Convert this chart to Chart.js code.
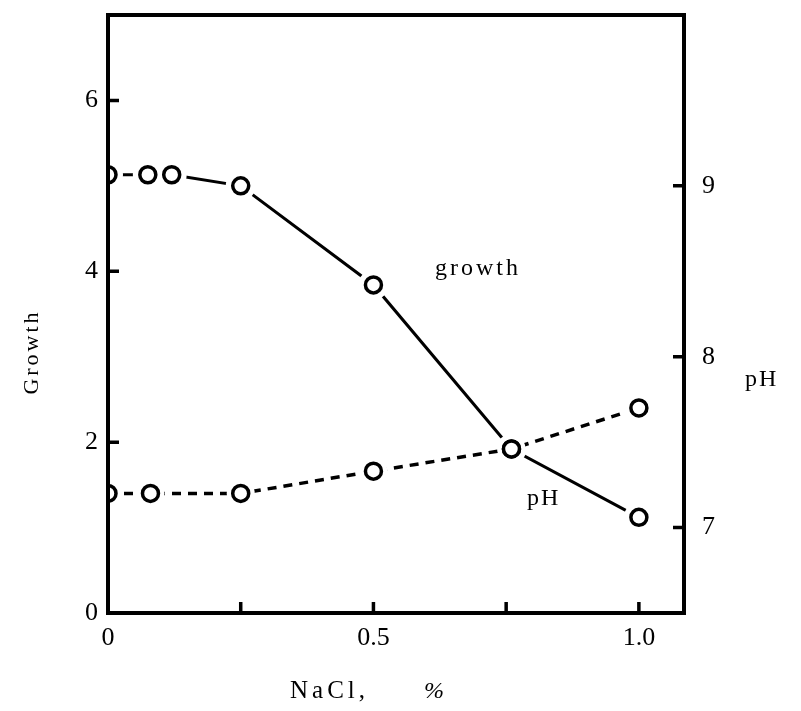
<!DOCTYPE html>
<html>
<head>
<meta charset="utf-8">
<script src="https://cdn.jsdelivr.net/npm/chart.js@4.4.0/dist/chart.umd.min.js"></script>
<style>
  html, body { margin: 0; background: #fff; }
</style>
</head>
<body>
<canvas id="myChart" width="801" height="711"></canvas>
<script>
// values
const growthNaCl = [0, 0.075, 0.12, 0.25, 0.5, 0.76, 1.0];
const growthVals = [5.13, 5.13, 5.13, 5.0, 3.84, 1.92, 1.12];
const phNaCl = [0, 0.08, 0.25, 0.5, 0.76, 1.0];
const phVals = [7.2, 7.2, 7.2, 7.33, 7.46, 7.7];

const xTickLabels = { "0": "0", "0.5": "0.5", "1": "1.0" };
const growthTicks = [0, 2, 4, 6];
const phTicks = [7, 8, 9];

const serif = '"Liberation Serif", "DejaVu Serif", serif';

function pts(xs, ys) {
  return xs.map((x, i) => ({ x: x, y: ys[i] }));
}

// frame, inward ticks and the free texts
const frameAndTicks = {
  id: "frameAndTicks",
  afterDatasetsDraw(chart) {
    const { ctx, chartArea: a, scales } = chart;
    ctx.save();
    ctx.strokeStyle = "#000";
    ctx.lineWidth = 4;
    ctx.strokeRect(a.left, a.top, a.right - a.left, a.bottom - a.top);

    ctx.lineWidth = 3.5;
    ctx.beginPath();
    scales.x.ticks.forEach(t => {
      if (t.value <= 0) return;
      const px = scales.x.getPixelForValue(t.value);
      ctx.moveTo(px, a.bottom);
      ctx.lineTo(px, a.bottom - 11);
    });
    growthTicks.forEach(v => {
      if (v <= 0) return;
      const py = scales.y.getPixelForValue(v);
      ctx.moveTo(a.left, py);
      ctx.lineTo(a.left + 11, py);
    });
    phTicks.forEach(v => {
      const py = scales.y2.getPixelForValue(v);
      ctx.moveTo(a.right, py);
      ctx.lineTo(a.right - 11, py);
    });
    ctx.stroke();

    ctx.fillStyle = "#000";
    ctx.textBaseline = "alphabetic";
    ctx.font = "24px " + serif;
    ctx.letterSpacing = "3px";
    ctx.fillText("growth", 435, 275);
    ctx.letterSpacing = "2px";
    ctx.fillText("pH", 527, 505);
    ctx.fillText("pH", 745, 386);
    ctx.font = "25px " + serif;
    ctx.letterSpacing = "4px";
    ctx.fillText("NaCl,", 290, 698);
    ctx.font = "italic 24px " + serif;
    ctx.fillText("%", 424, 698);

    ctx.font = "22px " + serif;
    ctx.letterSpacing = "3px";
    ctx.translate(38, 352);
    ctx.rotate(-Math.PI / 2);
    ctx.textAlign = "center";
    ctx.fillText("Growth", 0, 0);
    ctx.restore();
  }
};

const ctx = document.getElementById("myChart").getContext("2d");
const myChart = new Chart(ctx, {
  type: "line",
  data: {
    datasets: [
      {
        label: "growth",
        data: pts(growthNaCl, growthVals),
        yAxisID: "y",
        borderColor: "#000",
        borderWidth: 3,
        pointRadius: 15,
        pointBorderWidth: 0,
        pointBackgroundColor: "#fff",
        order: 3
      },
      {
        label: "pH",
        data: pts(phNaCl, phVals),
        yAxisID: "y2",
        borderColor: "#000",
        borderWidth: 3.5,
        borderDash: [9, 7],
        pointRadius: 14,
        pointBorderWidth: 0,
        pointBackgroundColor: "#fff",
        order: 2
      },
      {
        label: "growth points",
        data: pts(growthNaCl, growthVals),
        yAxisID: "y",
        showLine: false,
        pointRadius: 8,
        pointBorderWidth: 3.5,
        pointBorderColor: "#000",
        pointBackgroundColor: "#fff",
        clip: 0,
        order: 1
      },
      {
        label: "pH points",
        data: pts(phNaCl, phVals),
        yAxisID: "y2",
        showLine: false,
        pointRadius: 8,
        pointBorderWidth: 3.5,
        pointBorderColor: "#000",
        pointBackgroundColor: "#fff",
        clip: 0,
        order: 1
      }
    ]
  },
  options: {
    responsive: false,
    animation: false,
    events: [],
    layout: { padding: { top: 12 } },
    plugins: {
      legend: { display: false },
      tooltip: { enabled: false }
    },
    scales: {
      x: {
        type: "linear",
        min: 0,
        max: 1.085,
        grid: { display: false, drawTicks: false },
        border: { display: false },
        afterFit: s => { s.height = 98; s.paddingLeft = 0; s.paddingRight = 0; },
        ticks: {
          stepSize: 0.25,
          includeBounds: false,
          autoSkip: false,
          maxRotation: 0,
          padding: 10,
          color: "#000",
          font: { family: serif, size: 26 },
          callback: v => xTickLabels[String(v)] || ""
        }
      },
      y: {
        position: "left",
        min: 0,
        max: 7,
        grid: { display: false, drawTicks: false },
        border: { display: false },
        afterFit: s => { s.width = 108; s.paddingTop = 0; s.paddingBottom = 0; },
        ticks: {
          stepSize: 2,
          includeBounds: false,
          padding: 10,
          color: "#000",
          font: { family: serif, size: 26 },
          callback: v => growthTicks.includes(v) ? String(v) : ""
        }
      },
      y2: {
        position: "right",
        min: 6.5,
        max: 10,
        grid: { display: false, drawTicks: false },
        border: { display: false },
        afterFit: s => { s.width = 117; s.paddingTop = 0; s.paddingBottom = 0; },
        ticks: {
          stepSize: 1,
          includeBounds: false,
          padding: 18,
          color: "#000",
          font: { family: serif, size: 26 },
          callback: v => phTicks.includes(v) ? String(v) : ""
        }
      }
    }
  },
  plugins: [frameAndTicks]
});
</script>
</body>
</html>
